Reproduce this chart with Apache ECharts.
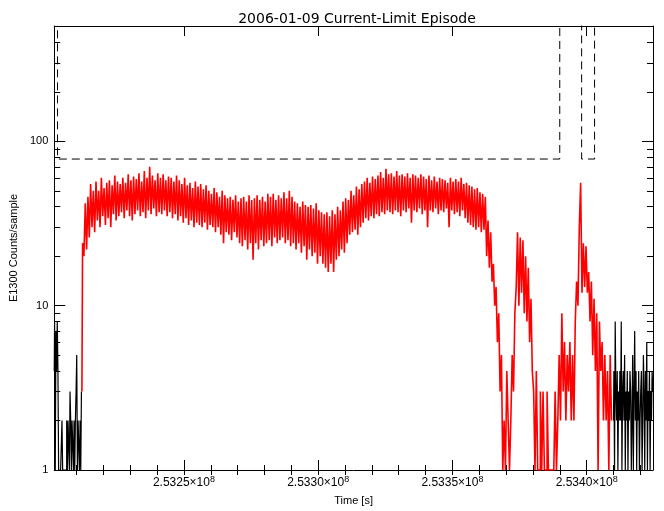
<!DOCTYPE html>
<html><head><meta charset="utf-8">
<script src="https://cdn.jsdelivr.net/npm/echarts@6/dist/echarts.min.js"></script>
<style>html,body{margin:0;padding:0;background:#fff}#c{width:664px;height:511px}</style>
</head><body><div id="c"></div><script>
const chartTitle = '2006-01-09 Current-Limit Episode';
const xTitle = 'Time [s]';
const yTitle = 'E1300 Counts/sample';
const xMin = 2.532017e8, xMax = 2.534247e8;
const yMin = 1, yMax = 503;
const xMajorTicks = [2.5325e8, 2.5330e8, 2.5335e8, 2.5340e8];
const xMinorTicks = [2.5321e8,2.5322e8,2.5323e8,2.5324e8,2.5325e8,2.5326e8,2.5327e8,2.5328e8,2.5329e8,2.5330e8,2.5331e8,
  2.5332e8,2.5333e8,2.5334e8,2.5335e8,2.5336e8,2.5337e8,2.5338e8,2.5339e8,2.5340e8,2.5341e8,2.5342e8];
const yMajorTicks = [1, 10, 100];
const yMinorTicks = [2,3,4,5,6,7,8,9,20,30,40,50,60,70,80,90,200,300,400,500];

// black (out-of-window) samples, 250 s apart
const blackStep = 250;
const blackLeftStart = 2.532017e8;
const blackLeftCounts = [4,8,1,7,4,8,4,1,1,1,1,1,2,1,1,1,1,1,1,
  2,1,2,2,1,3,2,1,2,2,1,2,1,2,3,5,1,2,2,1,2,1,3];
const blackRightStart = 2.53410e8;
const blackRightCounts = [
  2,4,1,8,3,2,4,1,3,2,
  4,2,8,1,3,4,2,5,1,3,
  2,4,1,3,2,4,3,1,2,5,
  1,3,7,2,4,1,3,2,4,1,
  2,3,4,1,2,5,3,1,4,2,
  6,1,3,2,4,1,3,2,4,3];
// red (in-window) samples, 500 s apart
const redStep = 500;
const redStart = 2.53212e8;
const redCounts = [
 3,24,20,42,22,46,26,55,30,50,
 28,57,33,50,30,60,35,52,31,56,
 34,58,30,54,36,62,33,57,35,55,
 37,60,34,56,38,63,35,58,33,61,
 36,59,38,64,35,57,37,66,34,60,
 38,70,36,62,39,58,35,64,37,60,
 36,63,38,58,35,61,37,60,34,57,
 36,62,33,58,35,55,32,60,34,54,
 31,56,33,52,30,57,32,53,31,55,
 30,51,32,54,29,50,31,48,30,52,
 28,49,30,46,27,50,24,47,28,45,
 27,46,25,44,28,47,26,43,24,45,
 23,46,25,43,22,47,24,44,19,45,
 24,47,22,44,25,46,23,43,24,48,
 25,46,23,48,26,44,24,47,25,45,
 26,49,24,45,25,50,23,46,24,43,
 22,42,24,40,21,43,23,41,19,40,
 22,41,20,39,21,42,18,38,20,37,
 18,36,17,37,16,35,18,38,16,36,
 19,40,20,38,22,43,21,45,24,44,
 27,50,28,47,29,53,27,51,30,55,
 32,57,34,60,33,56,35,61,34,59,
 36,62,35,65,37,60,36,68,38,63,
 37,64,36,61,38,66,37,62,35,63,
 38,61,37,64,39,60,32,63,38,62,
 37,60,39,63,36,61,38,59,30,62,
 38,58,37,61,39,57,36,60,38,59,
 37,58,39,56,30,60,38,57,36,59,
 37,57,35,60,38,55,34,56,32,54,
 31,53,30,51,29,52,30,49,28,48,
 29,46,20,33,17,28,14,18,10,13,
 6,9,3,5,1,2,1,4,2,1,
 2,5,3,9,13,28,10,26,12,25,
 9,20,8,17,6,11,4,3,1,4,
 1,1,3,1,3,1,1,3,1,1,
 1,1,1,3,1,2,5,2,9,3,
 6,2,5,3,6,2,5,2,8,14,
 10,30,56,12,24,13,23,12,16,8,
 14,5,11,4,9,1,8,4,6,2,
 5,2,4,1,5,2];
const limitTimes = [xMin, 2.5320292e8, 2.5320292e8, 2.5338997e8, 2.5338997e8, 2.5339812e8, 2.5339812e8, 2.5340294e8, 2.5340294e8, xMax];
const limitCounts = [1e4, 1e4, 78, 78, 1e4, 1e4, 78, 78, 1e4, 1e4];

const toSeries = (start, step, arr) => arr.map((v, i) => [start + i * step, v]);
const lf = 'Liberation Sans';
const logMax = Math.log10(yMax);

const xBase = {type: 'value', min: xMin, max: xMax, gridIndex: 0,
  splitLine: {show: false}, axisLine: {show: false}, axisLabel: {show: false}, axisTick: {show: false}};
const yLogBase = {type: 'value', min: 0, max: logMax, gridIndex: 0,
  splitLine: {show: false}, axisLine: {show: false}, axisLabel: {show: false}, axisTick: {show: false}};

const chart = echarts.init(document.getElementById('c'), null, {renderer: 'canvas'});
const dataLine = (data, color, w) => ({type: 'line', xAxisIndex: 0, yAxisIndex: 0, data: data, step: 'middle',
  showSymbol: false, symbol: 'none', clip: true, lineStyle: {color: color, width: w, cap: 'butt', join: 'miter'}, silent: true});
chart.setOption({
  animation: false,
  backgroundColor: '#fff',
  title: {text: chartTitle, left: 352, top: 7, textAlign: 'center',
    textStyle: {fontFamily: 'DejaVu Sans', fontSize: 14, fontWeight: 'normal', color: '#000'}},
  grid: {left: 51, right: 11, top: 26, bottom: 40, containLabel: false},
  xAxis: [
    Object.assign({}, xBase, {position: 'bottom',
      axisLine: {show: true, onZero: false, lineStyle: {color: '#000', width: 1}},
      axisTick: {show: true, inside: true, length: 10, customValues: xMajorTicks, lineStyle: {color: '#000'}},
      axisLabel: {show: true, customValues: xMajorTicks, margin: 5, color: '#000',
        formatter: v => '{m|' + (v / 1e8).toFixed(4) + '×10}{e|8}',
        rich: {m: {fontFamily: lf, fontSize: 12, color: '#000'},
               e: {fontFamily: lf, fontSize: 9, color: '#000', padding: [0, 0, 7, 0]}}},
      name: xTitle, nameLocation: 'middle', nameGap: 25,
      nameTextStyle: {fontFamily: lf, fontSize: 11, color: '#000'}}),
    Object.assign({}, xBase, {position: 'bottom',
      axisTick: {show: true, inside: true, length: 5, customValues: xMinorTicks, lineStyle: {color: '#000'}}}),
    Object.assign({}, xBase, {position: 'top',
      axisLine: {show: true, onZero: false, lineStyle: {color: '#000', width: 1}},
      axisTick: {show: true, inside: true, length: 10, customValues: xMajorTicks, lineStyle: {color: '#000'}}}),
    Object.assign({}, xBase, {position: 'top',
      axisTick: {show: true, inside: true, length: 5, customValues: xMinorTicks, lineStyle: {color: '#000'}}})
  ],
  yAxis: [
    {type: 'log', logBase: 10, min: yMin, max: yMax, position: 'left', gridIndex: 0,
      splitLine: {show: false}, axisLine: {show: false}, axisLabel: {show: false}, axisTick: {show: false}},
    Object.assign({}, yLogBase, {position: 'left',
      axisLine: {show: true, onZero: false, lineStyle: {color: '#000', width: 1}},
      axisTick: {show: true, inside: true, length: 11, customValues: yMajorTicks.map(Math.log10), lineStyle: {color: '#000'}},
      axisLabel: {show: true, customValues: yMajorTicks.map(Math.log10), margin: 6, color: '#000',
        fontFamily: lf, fontSize: 11, formatter: v => String(Math.round(Math.pow(10, v)))},
      name: yTitle, nameLocation: 'middle', nameGap: 34, nameRotate: 90,
      nameTextStyle: {fontFamily: lf, fontSize: 11, color: '#000'}}),
    Object.assign({}, yLogBase, {position: 'left',
      axisTick: {show: true, inside: true, length: 6, customValues: yMinorTicks.map(Math.log10), lineStyle: {color: '#000'}}}),
    Object.assign({}, yLogBase, {position: 'right',
      axisLine: {show: true, onZero: false, lineStyle: {color: '#000', width: 1}},
      axisTick: {show: true, inside: true, length: 11, customValues: yMajorTicks.map(Math.log10), lineStyle: {color: '#000'}}}),
    Object.assign({}, yLogBase, {position: 'right',
      axisTick: {show: true, inside: true, length: 6, customValues: yMinorTicks.map(Math.log10), lineStyle: {color: '#000'}}})
  ],
  series: [
    dataLine(toSeries(blackLeftStart, blackStep, blackLeftCounts), '#000', 1.2),
    dataLine(toSeries(blackRightStart, blackStep, blackRightCounts), '#000', 1.2),
    dataLine(toSeries(redStart, redStep, redCounts), '#ff0000', 1.6),
    {type: 'line', xAxisIndex: 0, yAxisIndex: 0, data: limitTimes.map((t, i) => [t, limitCounts[i]]),
      showSymbol: false, symbol: 'none', clip: true, lineStyle: {color: '#000', width: 1, type: [8, 5]}, silent: true}
  ]
});
</script></body></html>
